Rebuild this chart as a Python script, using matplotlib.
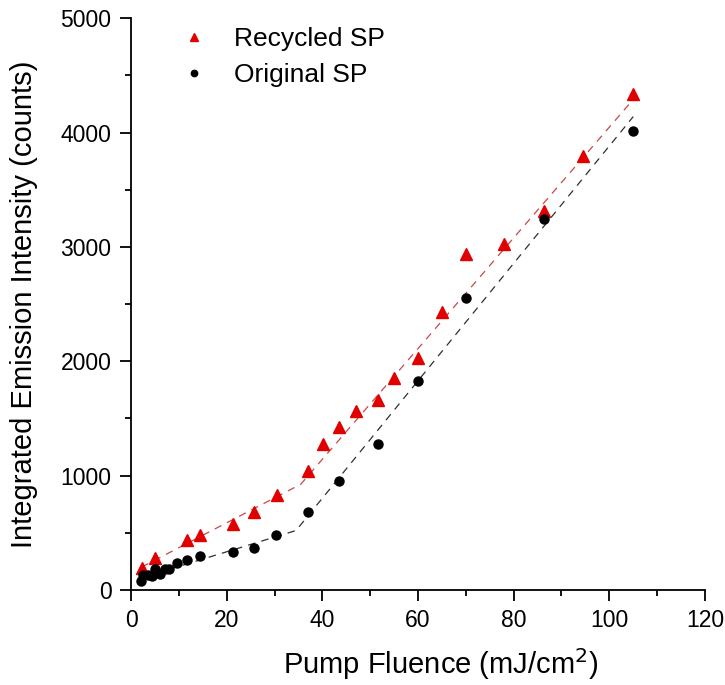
import matplotlib
matplotlib.use("Agg")
import matplotlib.pyplot as plt
from matplotlib.ticker import MultipleLocator

plt.rcParams["font.family"] = ["Liberation Sans", "DejaVu Sans"]

# Recycled SP (red triangles)
rec_x = [2.2, 5.1, 11.7, 14.5, 21.3, 25.7, 30.6, 37.0, 40.2, 43.5, 47.0, 51.6,
         55.0, 60.0, 65.1, 70.1, 78.0, 86.4, 94.5, 105.0]
rec_y = [190, 282, 433, 480, 579, 681, 827, 1037, 1279, 1424, 1562, 1658,
         1853, 2028, 2430, 2935, 3022, 3314, 3799, 4341]

# Original SP (black circles)
orig_x = [2.0, 2.5, 3.6, 4.3, 5.1, 6.1, 7.1, 8.0, 9.7, 11.7, 14.5, 21.3, 25.7,
          30.4, 36.9, 43.4, 51.6, 59.9, 70.1, 86.4, 105.0]
orig_y = [83, 127, 127, 121, 185, 142, 185, 185, 240, 258, 299, 331, 369,
          477, 684, 949, 1279, 1827, 2556, 3247, 4014]

# piecewise linear fits (dashed)
rec_fit_x = [2.2, 35.5, 105.0]
rec_fit_y = [200, 925, 4290]
orig_fit_x = [2.5, 34.5, 105.0]
orig_fit_y = [110, 520, 4140]

fig = plt.figure(figsize=(7.25, 6.85), dpi=100)
ax = fig.add_axes([0.1807, 0.1387, 0.7917, 0.8346])

ax.plot(rec_fit_x, rec_fit_y, ls=(0, (6, 5)), color="#c84848", lw=0.9, zorder=1)
ax.plot(orig_fit_x, orig_fit_y, ls=(0, (6, 5)), color="#303030", lw=0.9, zorder=1)

ax.plot(rec_x, rec_y, ls="none", marker="^", color="#e00000", ms=8.5,
        mec="#e00000", label="Recycled SP", zorder=3)
ax.plot(orig_x, orig_y, ls="none", marker="o", color="black", ms=6.5,
        label="Original SP", zorder=3)

ax.set_xlim(0, 120)
ax.set_ylim(0, 5000)
ax.xaxis.set_major_locator(MultipleLocator(20))
ax.xaxis.set_minor_locator(MultipleLocator(10))
ax.yaxis.set_major_locator(MultipleLocator(1000))
ax.yaxis.set_minor_locator(MultipleLocator(500))
ax.tick_params(which="major", direction="out", length=8, width=1.3, labelsize=16.5, pad=6)
ax.tick_params(which="minor", direction="out", length=4.5, width=1.3)

for side in ["top", "right"]:
    ax.spines[side].set_visible(False)
for side in ["left", "bottom"]:
    ax.spines[side].set_linewidth(1.3)

ax.set_xlabel("Pump Fluence (mJ/cm$^2$)", fontsize=21)
ax.xaxis.set_label_coords(0.540, -0.098)
ax.set_ylabel("Integrated Emission Intensity (counts)", fontsize=21)
ax.yaxis.set_label_coords(-0.162, 0.5)

leg = ax.legend(loc="upper left", bbox_to_anchor=(0.087, 0.985), frameon=False,
                fontsize=19, markerscale=0.7, handlelength=1.0, handletextpad=1.0,
                labelspacing=0.45, borderpad=0, borderaxespad=0)

fig.savefig("out.png", dpi=100)
